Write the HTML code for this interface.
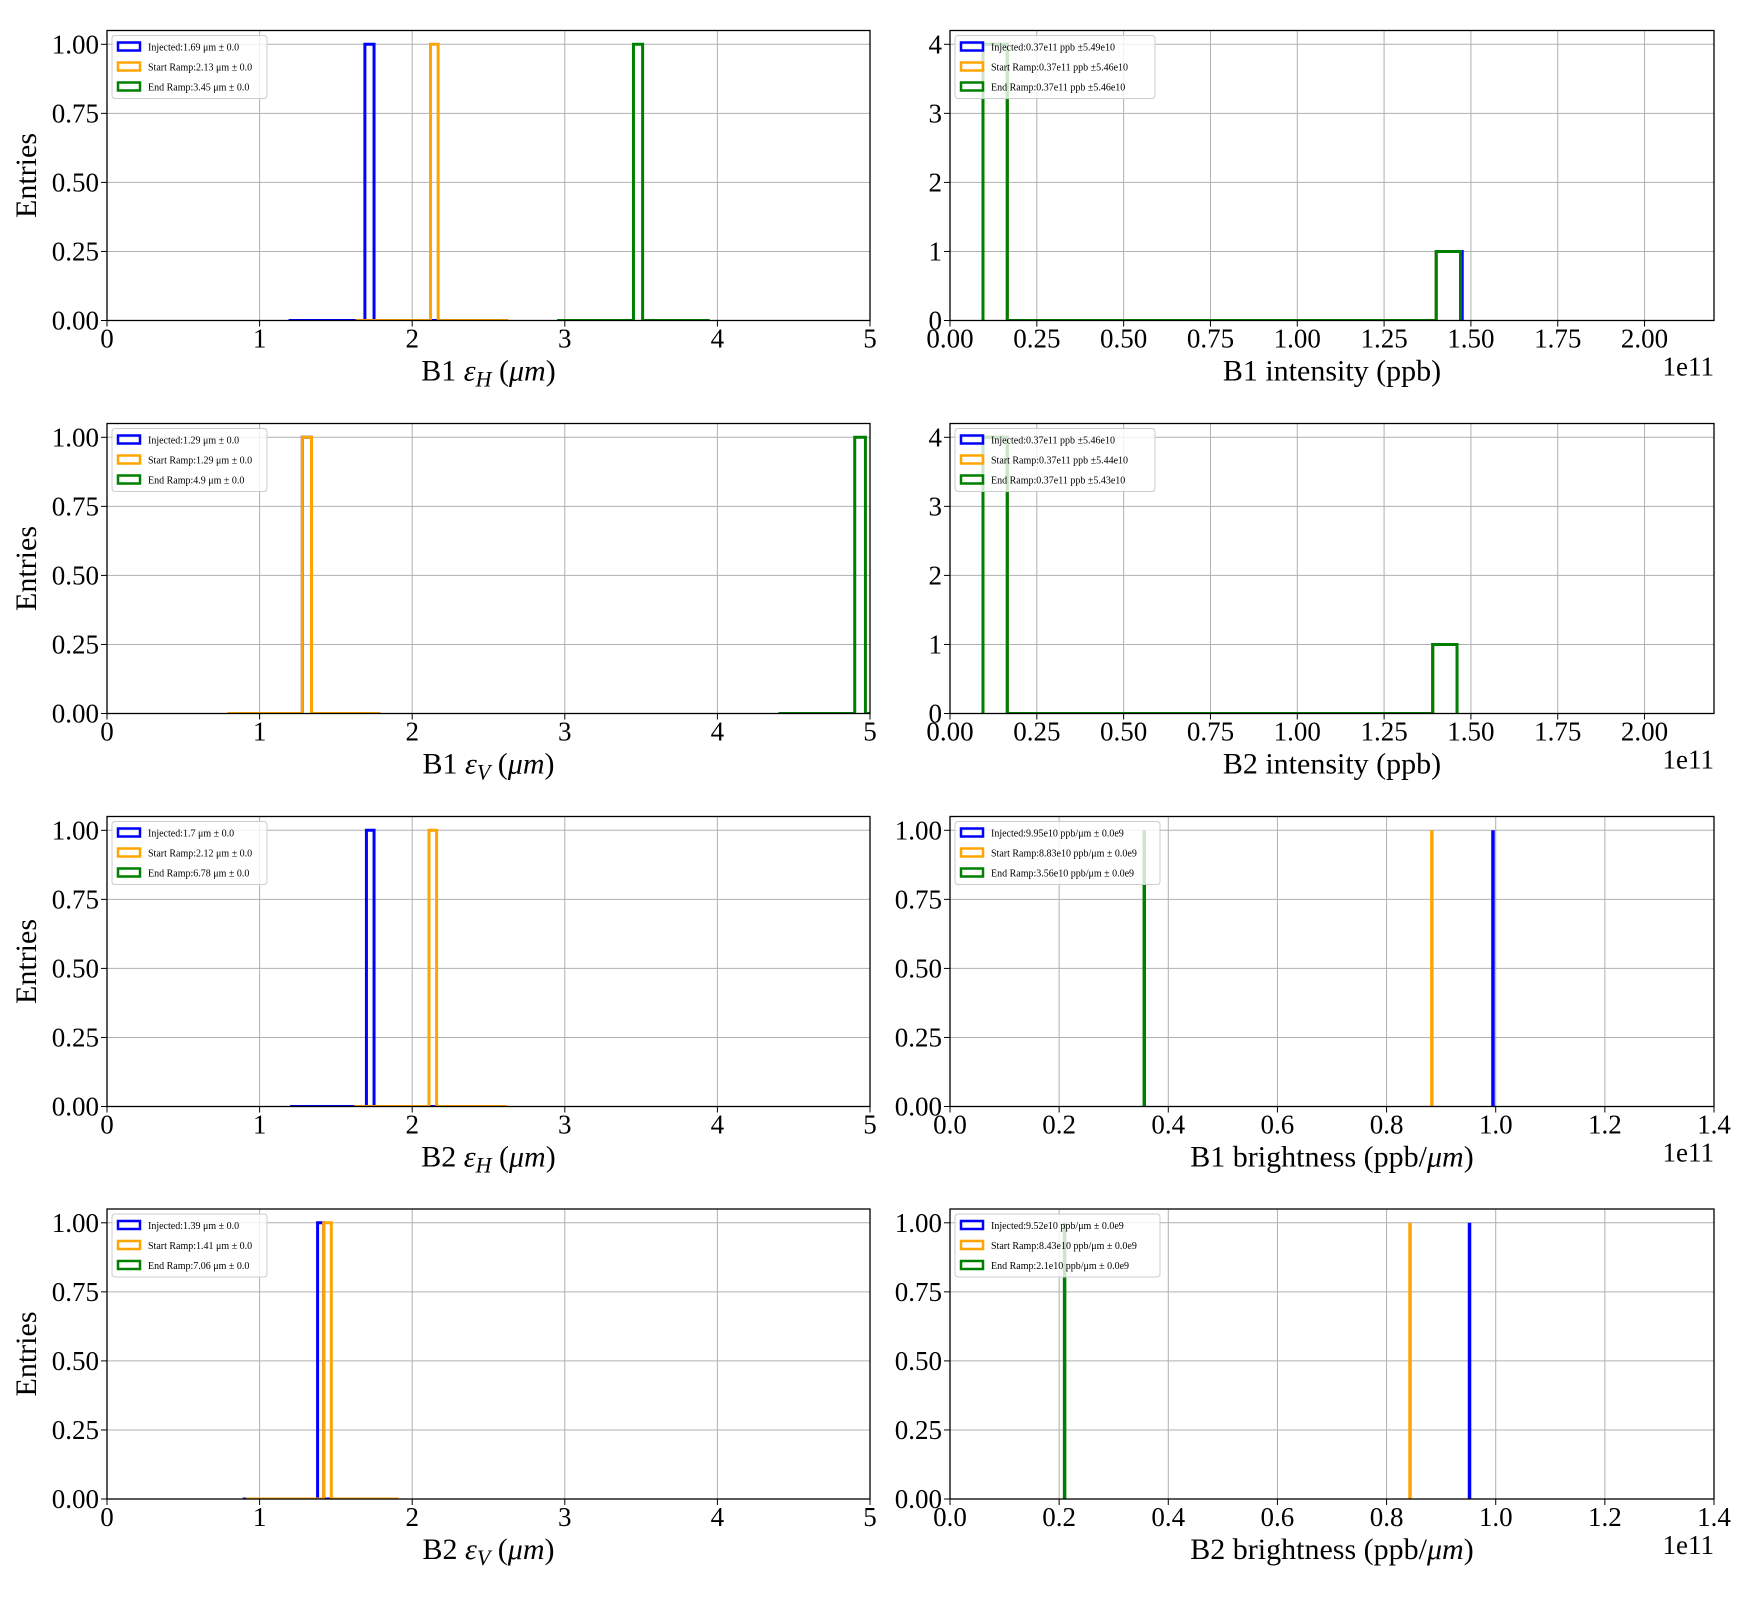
<!DOCTYPE html>
<html><head><meta charset="utf-8"><style>
body{margin:0;background:#fff}
svg{display:block;font-family:"Liberation Serif",serif}
</style></head><body>
<svg id="fig" width="1760" height="1600" viewBox="0 0 1760 1600" xmlns="http://www.w3.org/2000/svg"></svg>
<script>
const colors = ["blue","orange","green"];
const leftTicks = [0,1,2,3,4,5];
const entryTicks = [0,0.25,0.5,0.75,1.0];
const intensityTicks = [0,0.25,0.5,0.75,1.0,1.25,1.5,1.75,2.0];
const intensityYTicks = [0,1,2,3,4];
const brightTicks = [0,0.2,0.4,0.6,0.8,1.0,1.2,1.4];
const b1HLabels = ["Injected:1.69 μm ± 0.0","Start Ramp:2.13 μm ± 0.0","End Ramp:3.45 μm ± 0.0"];
const b1HData = [[1.19,2.19,1.69,1.75,1],[1.63,2.63,2.12,2.17,1],[2.95,3.95,3.45,3.51,1]];
const b1VLabels = ["Injected:1.29 μm ± 0.0","Start Ramp:1.29 μm ± 0.0","End Ramp:4.9 μm ± 0.0"];
const b1VData = [[0.79,1.79,1.28,1.34,1],[0.79,1.79,1.28,1.34,1],[4.4,5.4,4.9,4.97,1]];
const b2HLabels = ["Injected:1.7 μm ± 0.0","Start Ramp:2.12 μm ± 0.0","End Ramp:6.78 μm ± 0.0"];
const b2HData = [[1.2,2.2,1.7,1.75,1],[1.62,2.62,2.11,2.16,1],[6.28,7.28,6.78,6.84,1]];
const b2VLabels = ["Injected:1.39 μm ± 0.0","Start Ramp:1.41 μm ± 0.0","End Ramp:7.06 μm ± 0.0"];
const b2VData = [[0.89,1.89,1.38,1.42,1],[0.91,1.91,1.42,1.47,1],[6.56,7.56,7.06,7.12,1]];
const int1Labels = ["Injected:0.37e11 ppb ±5.49e10","Start Ramp:0.37e11 ppb ±5.46e10","End Ramp:0.37e11 ppb ±5.46e10"];
const int1Data = [[0.095,0.095,0.165,4,1.40,1.475,1],[0.095,0.095,0.165,4,1.40,1.47,1],[0.095,0.095,0.165,4,1.40,1.47,1]];
const int2Labels = ["Injected:0.37e11 ppb ±5.46e10","Start Ramp:0.37e11 ppb ±5.44e10","End Ramp:0.37e11 ppb ±5.43e10"];
const int2Data = [[0.095,0.095,0.165,4,1.39,1.46,1],[0.095,0.095,0.165,4,1.39,1.46,1],[0.095,0.095,0.165,4,1.39,1.46,1]];
const br1Labels = ["Injected:9.95e10 ppb/μm ± 0.0e9","Start Ramp:8.83e10 ppb/μm ± 0.0e9","End Ramp:3.56e10 ppb/μm ± 0.0e9"];
const br1Values = [0.995,0.883,0.356];
const br2Labels = ["Injected:9.52e10 ppb/μm ± 0.0e9","Start Ramp:8.43e10 ppb/μm ± 0.0e9","End Ramp:2.1e10 ppb/μm ± 0.0e9"];
const br2Values = [0.952,0.843,0.21];

const NS="http://www.w3.org/2000/svg";
const fig=document.getElementById('fig');
function mk(tag,attrs,parent){const e=document.createElementNS(NS,tag);for(const k in attrs)e.setAttribute(k,attrs[k]);(parent||fig).appendChild(e);return e;}
const rowTops=[30.5,423.5,816.5,1209];
const H=290;
const cols=[{x:107,w:763},{x:950,w:764}];

function panel(name,row,col,xmin,xmax,xticks,xfmt,ymax,yticks,yfmt,xlabelHTML,showEntries,offset){
  const g=mk('g',{});
  
  
  const X0=cols[col].x,W=cols[col].w,Y0=rowTops[row];
  const sx=v=>X0+(v-xmin)/(xmax-xmin)*W;
  const sy=v=>Y0+H-(v/ymax)*H;
  const clipId='c'+row+col;
  const cp=mk('clipPath',{id:clipId},g);mk('rect',{x:X0,y:Y0-2,width:W,height:H+2},cp);
  xticks.forEach(t=>{const x=sx(t);
    const l=mk('line',{x1:x,x2:x,y1:Y0,y2:Y0+H,stroke:'#b0b0b0','stroke-width':1},g);
    
    mk('line',{x1:x,x2:x,y1:Y0+H,y2:Y0+H+6,stroke:'#000','stroke-width':1},g);
    const tx=mk('text',{x:x,y:Y0+H+27,'font-size':27,'text-anchor':'middle'},g);tx.textContent=xfmt(t);
    });
  yticks.forEach(t=>{const y=sy(t);
    const l=mk('line',{x1:X0,x2:X0+W,y1:y,y2:y,stroke:'#b0b0b0','stroke-width':1},g);
    
    mk('line',{x1:X0-6,x2:X0,y1:y,y2:y,stroke:'#000','stroke-width':1},g);
    const tx=mk('text',{x:X0-8,y:y+9,'font-size':27,'text-anchor':'end'},g);tx.textContent=yfmt(t);
    });
  const marks=mk('g',{'clip-path':'url(#'+clipId+')'},g);
  mk('rect',{x:X0,y:Y0,width:W,height:H,fill:'none',stroke:'#000','stroke-width':1.3},g);
  const xl=mk('text',{x:X0+W/2,y:Y0+H+60,'font-size':30,'text-anchor':'middle'},g);xl.innerHTML=xlabelHTML;
  
  if(showEntries){const t=mk('text',{x:0,y:0,'font-size':30,'text-anchor':'middle',transform:`translate(36,${Y0+H/2}) rotate(-90)`},g);t.textContent='Entries';
    }
  if(offset){const t=mk('text',{x:X0+W,y:Y0+H+55,'font-size':27,'text-anchor':'end'},g);t.textContent=offset;
    }
  return {g,marks,sx,sy,X0,Y0};
}
function legend(p,labels,w){
  const lg=mk('g',{},p.g);
  
  mk('rect',{x:p.X0+5,y:p.Y0+5,width:w,height:63,rx:3,fill:'#fff','fill-opacity':0.8,stroke:'#ccc'},lg);
  labels.forEach((s,i)=>{const y=p.Y0+15+i*20;
    const r=mk('rect',{x:p.X0+11,y:y-3,width:22,height:8,fill:'none',stroke:colors[i],'stroke-width':2.5},lg);
    
    const t=mk('text',{x:p.X0+41,y:y+5,'font-size':10},lg);t.textContent=s;
    });
}
function histPath(p,d){
  const [lo,hi,bl,bh,h]=d;
  return `M${p.sx(lo)},${p.sy(0)}H${p.sx(bl)}V${p.sy(h)}H${p.sx(bh)}V${p.sy(0)}H${p.sx(hi)}`;
}
function drawHist(p,data){data.forEach((d,i)=>{
  const e=mk('path',{d:histPath(p,d),fill:'none',stroke:colors[i],'stroke-width':3},p.marks);
  });}
function drawInt(p,data){data.forEach((d,i)=>{
  const [lo,a1,a2,h1,b1,b2,h2]=d;
  const s=`M${p.sx(lo)},${p.sy(0)}V${p.sy(h1)}H${p.sx(a2)}V${p.sy(0)}H${p.sx(b1)}V${p.sy(h2)}H${p.sx(b2)}V${p.sy(0)}`;
  const e=mk('path',{d:s,fill:'none',stroke:colors[i],'stroke-width':3},p.marks);
  });}
function drawBright(p,vals){vals.forEach((v,i)=>{
  const e=mk('line',{x1:p.sx(v),x2:p.sx(v),y1:p.sy(0),y2:p.sy(1),stroke:colors[i],'stroke-width':3.5},p.marks);
  });}

const f0=t=>String(t), f2=t=>t.toFixed(2), f1=t=>t.toFixed(1);
const eps=(b,s)=>`${b} <tspan font-style="italic">ε</tspan><tspan font-style="italic" font-size="22" dy="6">${s}</tspan><tspan dy="-6"> (</tspan><tspan font-style="italic">μm</tspan>)`;
let p;
p=panel('panel-b1-eh',0,0,0,5,leftTicks,f0,1.05,entryTicks,f2,eps('B1','H'),true);drawHist(p,b1HData);legend(p,b1HLabels,155);
p=panel('panel-b1-intensity',0,1,0,2.2,intensityTicks,f2,4.2,intensityYTicks,f0,'B1 intensity (ppb)',false,'1e11');drawInt(p,int1Data);legend(p,int1Labels,200);
p=panel('panel-b1-ev',1,0,0,5,leftTicks,f0,1.05,entryTicks,f2,eps('B1','V'),true);drawHist(p,b1VData);legend(p,b1VLabels,155);
p=panel('panel-b2-intensity',1,1,0,2.2,intensityTicks,f2,4.2,intensityYTicks,f0,'B2 intensity (ppb)',false,'1e11');drawInt(p,int2Data);legend(p,int2Labels,200);
p=panel('panel-b2-eh',2,0,0,5,leftTicks,f0,1.05,entryTicks,f2,eps('B2','H'),true);drawHist(p,b2HData);legend(p,b2HLabels,155);
p=panel('panel-b1-brightness',2,1,0,1.4,brightTicks,f1,1.05,entryTicks,f2,'B1 brightness (ppb/<tspan font-style="italic">μm</tspan>)',false,'1e11');drawBright(p,br1Values);legend(p,br1Labels,205);
p=panel('panel-b2-ev',3,0,0,5,leftTicks,f0,1.05,entryTicks,f2,eps('B2','V'),true);drawHist(p,b2VData);legend(p,b2VLabels,155);
p=panel('panel-b2-brightness',3,1,0,1.4,brightTicks,f1,1.05,entryTicks,f2,'B2 brightness (ppb/<tspan font-style="italic">μm</tspan>)',false,'1e11');drawBright(p,br2Values);legend(p,br2Labels,205);
</script>
</body></html>
